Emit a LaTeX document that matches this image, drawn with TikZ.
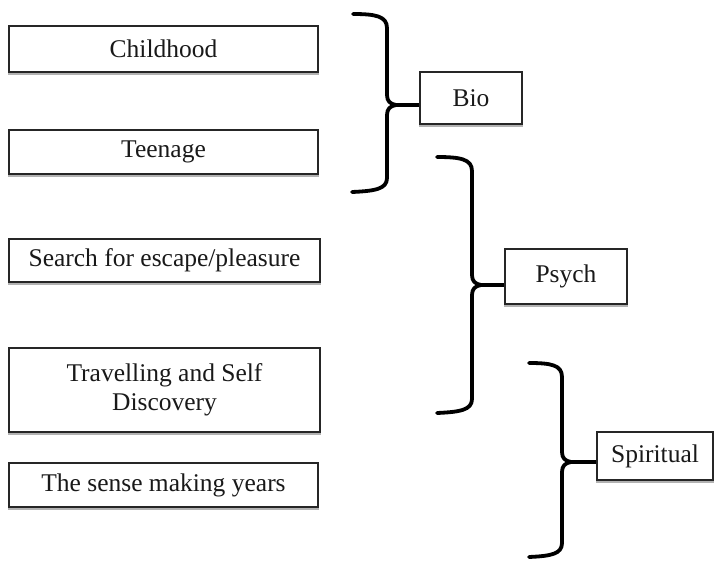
\documentclass[tikz,border=0pt]{standalone}
\usepackage{fontspec}
\setmainfont{Liberation Serif}
\begin{document}
\begin{tikzpicture}[x=1pt,y=-1pt,
  box/.style={draw=black!85, line width=1.3pt, inner sep=0pt, align=center,
    font=\fontsize{25.5}{29}\selectfont, text=black!90},
  shadowline/.style={draw=black!30, line width=1.6pt},
  bracepath/.style={draw=black, line width=3.8pt, line cap=round, line join=round},
  link/.style={draw=black, line width=3.4pt}]
\useasboundingbox (0,0) rectangle (715,560);
% left boxes
\node[box, minimum width=309pt, minimum height=46pt] (child) at (163.5,49) {Childhood};
\node[box, minimum width=309pt, minimum height=44pt] (teen) at (163.5,152) {Teenage};
\node[box, minimum width=311pt, minimum height=43pt] (search) at (164.5,260.5) {Search for escape/pleasure};
\node[box, minimum width=311pt, minimum height=84pt] (travel) at (164.5,390) {Travelling and Self\\Discovery};
\node[box, minimum width=309pt, minimum height=44pt] (sense) at (163.5,485) {The sense making years};
% right boxes
\node[box, minimum width=102pt, minimum height=52pt] (bio) at (471,98) {Bio};
\node[box, minimum width=122pt, minimum height=55pt] (psych) at (566,276.5) {Psych};
\node[box, minimum width=116pt, minimum height=48pt] (spirit) at (655,456) {Spiritual};
% shadows
\foreach \n in {child,teen,search,travel,sense,bio,psych,spirit}{
  \draw[shadowline] ([yshift=-1.6pt]\n.south west) -- ([yshift=-1.6pt]\n.south east);
}
% braces
\draw[bracepath] (353,14) .. controls (375,14) and (387,16) .. (387,28) -- (387,95)
  .. controls (387,101) and (390,104) .. (396,105) coordinate (b1)
  .. controls (390,106) and (387,109) .. (387,115) -- (387,178)
  .. controls (387,189) and (375,191) .. (352,192);
\draw[bracepath] (437,157) .. controls (460,157) and (472,159) .. (472,171) -- (472,275)
  .. controls (472,281) and (475,284) .. (481,285) coordinate (b2)
  .. controls (475,286) and (472,289) .. (472,295) -- (472,399)
  .. controls (472,410) and (460,412) .. (437,413);
\draw[bracepath] (529,363) .. controls (551,363) and (562,365) .. (562,377) -- (562,452)
  .. controls (562,458) and (565,461) .. (571,462) coordinate (b3)
  .. controls (565,463) and (562,466) .. (562,472) -- (562,543)
  .. controls (562,554) and (551,556) .. (529,557);
% connectors
\draw[link] (b1) -- (b1 -| bio.west);
\draw[link] (b2) -- (b2 -| psych.west);
\draw[link] (b3) -- (b3 -| spirit.west);
\end{tikzpicture}
\end{document}
